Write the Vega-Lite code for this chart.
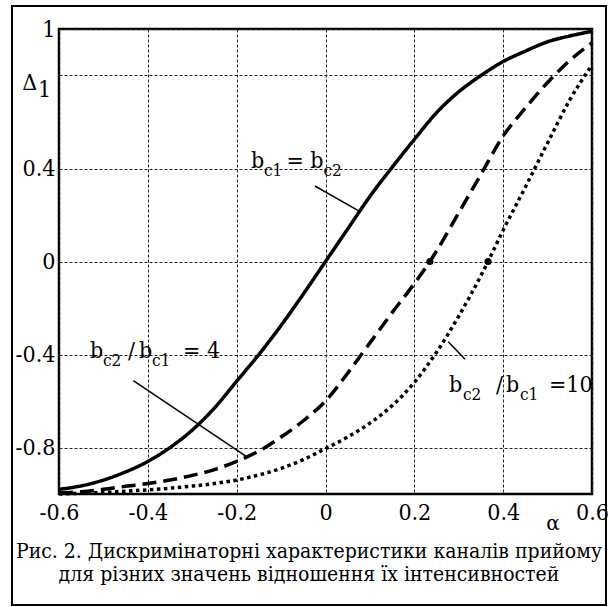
{
  "$schema": "https://vega.github.io/schema/vega-lite/v6.json",
  "width": 533,
  "height": 465,
  "autosize": "none",
  "padding": {"left": 59, "top": 29, "right": 23, "bottom": 113},
  "background": "white",
  "config": {"view": {"stroke": "black", "strokeWidth": 2.5}, "font": "DejaVu Serif Condensed"},
  "datasets": {
    "curves": [
      {"s": "eq", "a": -0.6, "d": -0.98}, {"s": "eq", "a": -0.55, "d": -0.965}, {"s": "eq", "a": -0.5, "d": -0.94},
      {"s": "eq", "a": -0.45, "d": -0.905}, {"s": "eq", "a": -0.4, "d": -0.86}, {"s": "eq", "a": -0.35, "d": -0.8},
      {"s": "eq", "a": -0.3, "d": -0.725}, {"s": "eq", "a": -0.25, "d": -0.63}, {"s": "eq", "a": -0.2, "d": -0.515},
      {"s": "eq", "a": -0.15, "d": -0.4}, {"s": "eq", "a": -0.1, "d": -0.275}, {"s": "eq", "a": -0.05, "d": -0.14},
      {"s": "eq", "a": 0.0, "d": 0.0}, {"s": "eq", "a": 0.05, "d": 0.14}, {"s": "eq", "a": 0.1, "d": 0.28},
      {"s": "eq", "a": 0.15, "d": 0.405}, {"s": "eq", "a": 0.2, "d": 0.525}, {"s": "eq", "a": 0.25, "d": 0.64},
      {"s": "eq", "a": 0.3, "d": 0.73}, {"s": "eq", "a": 0.35, "d": 0.8}, {"s": "eq", "a": 0.4, "d": 0.86},
      {"s": "eq", "a": 0.45, "d": 0.905}, {"s": "eq", "a": 0.5, "d": 0.945}, {"s": "eq", "a": 0.55, "d": 0.97},
      {"s": "eq", "a": 0.6, "d": 0.99},
      {"s": "r4", "a": -0.6, "d": -0.995}, {"s": "r4", "a": -0.55, "d": -0.99}, {"s": "r4", "a": -0.5, "d": -0.98},
      {"s": "r4", "a": -0.45, "d": -0.967}, {"s": "r4", "a": -0.4, "d": -0.955}, {"s": "r4", "a": -0.35, "d": -0.94},
      {"s": "r4", "a": -0.3, "d": -0.92}, {"s": "r4", "a": -0.25, "d": -0.895}, {"s": "r4", "a": -0.2, "d": -0.86},
      {"s": "r4", "a": -0.15, "d": -0.815}, {"s": "r4", "a": -0.1, "d": -0.755}, {"s": "r4", "a": -0.05, "d": -0.685},
      {"s": "r4", "a": 0.0, "d": -0.6}, {"s": "r4", "a": 0.05, "d": -0.48}, {"s": "r4", "a": 0.1, "d": -0.35},
      {"s": "r4", "a": 0.15, "d": -0.22}, {"s": "r4", "a": 0.2, "d": -0.095}, {"s": "r4", "a": 0.235, "d": 0.0},
      {"s": "r4", "a": 0.25, "d": 0.045}, {"s": "r4", "a": 0.3, "d": 0.21}, {"s": "r4", "a": 0.35, "d": 0.375},
      {"s": "r4", "a": 0.4, "d": 0.54}, {"s": "r4", "a": 0.45, "d": 0.66}, {"s": "r4", "a": 0.5, "d": 0.77},
      {"s": "r4", "a": 0.55, "d": 0.865}, {"s": "r4", "a": 0.6, "d": 0.94},
      {"s": "r10", "a": -0.6, "d": -1.0}, {"s": "r10", "a": -0.55, "d": -0.997}, {"s": "r10", "a": -0.5, "d": -0.993},
      {"s": "r10", "a": -0.45, "d": -0.988}, {"s": "r10", "a": -0.4, "d": -0.982}, {"s": "r10", "a": -0.35, "d": -0.975},
      {"s": "r10", "a": -0.3, "d": -0.966}, {"s": "r10", "a": -0.25, "d": -0.955}, {"s": "r10", "a": -0.2, "d": -0.94},
      {"s": "r10", "a": -0.15, "d": -0.918}, {"s": "r10", "a": -0.1, "d": -0.89}, {"s": "r10", "a": -0.05, "d": -0.852},
      {"s": "r10", "a": 0.0, "d": -0.805}, {"s": "r10", "a": 0.05, "d": -0.755}, {"s": "r10", "a": 0.1, "d": -0.695},
      {"s": "r10", "a": 0.15, "d": -0.62}, {"s": "r10", "a": 0.2, "d": -0.52}, {"s": "r10", "a": 0.25, "d": -0.39},
      {"s": "r10", "a": 0.3, "d": -0.235}, {"s": "r10", "a": 0.35, "d": -0.06}, {"s": "r10", "a": 0.366, "d": 0.0},
      {"s": "r10", "a": 0.4, "d": 0.135}, {"s": "r10", "a": 0.45, "d": 0.32}, {"s": "r10", "a": 0.5, "d": 0.51},
      {"s": "r10", "a": 0.55, "d": 0.695}, {"s": "r10", "a": 0.6, "d": 0.845}
    ],
    "dots": [{"a": 0.235, "d": 0.0}, {"a": 0.366, "d": 0.0}],
    "leaders": [
      {"a": -0.0237, "d": 0.3247, "a2": 0.0738, "d2": 0.2185},
      {"a": -0.4327, "d": -0.5127, "a2": -0.1752, "d2": -0.8422},
      {"a": 0.2765, "d": -0.3449, "a2": 0.3141, "d2": -0.4206}
    ],
    "labels_main": [
      {"a": -0.1677, "d": 0.4022, "t": "b"},
      {"a": -0.0879, "d": 0.4022, "t": "= b"},
      {"a": -0.5302, "d": -0.4151, "t": "b"},
      {"a": -0.4447, "d": -0.4151, "t": "/"},
      {"a": -0.4199, "d": -0.4151, "t": "b"},
      {"a": -0.3208, "d": -0.4151, "t": "= 4"},
      {"a": 0.278, "d": -0.5613, "t": "b"},
      {"a": 0.3839, "d": -0.5613, "t": "/"},
      {"a": 0.4064, "d": -0.5613, "t": "b"},
      {"a": 0.5032, "d": -0.5613, "t": "=10"},
      {"a": -0.683, "d": 0.7376, "t": "Δ"},
      {"a": -0.6473, "d": 0.7075, "t": "1"}
    ],
    "labels_sub": [
      {"a": -0.1385, "d": 0.3677, "t": "c1"},
      {"a": -0.0044, "d": 0.3677, "t": "c2"},
      {"a": -0.5009, "d": -0.4495, "t": "c2"},
      {"a": -0.3906, "d": -0.4495, "t": "c1"},
      {"a": 0.3096, "d": -0.5957, "t": "c2"},
      {"a": 0.4379, "d": -0.5957, "t": "c1"}
    ],
    "caption": [
      {"a": -0.0372, "d": -1.2753, "t": "Рис. 2. Дискримінаторні характеристики каналів прийому"},
      {"a": -0.0372, "d": -1.375, "t": "для різних значень відношення їх інтенсивностей"}
    ]
  },
  "layer": [
    {
      "data": {"name": "curves"},
      "mark": {"type": "line", "color": "black", "strokeWidth": 3.5, "strokeCap": "butt", "interpolate": "monotone"},
      "encoding": {
        "x": {
          "field": "a", "type": "quantitative",
          "scale": {"domain": [-0.6, 0.6], "nice": false, "zero": false},
          "axis": {
            "values": [-0.6, -0.4, -0.2, 0, 0.2, 0.4, 0.6],
            "labelExpr": "replace(format(datum.value, '.1~f'), '\u2212', '-')",
            "grid": true, "gridColor": "#222", "gridDash": [3, 2], "gridWidth": 1,
            "ticks": false, "domain": false, "labelFont": "DejaVu Serif Condensed", "labelFontSize": 23,
            "labelColor": "black", "labelPadding": 7, "title": null, "labelFlush": false, "labelOverlap": false
          }
        },
        "y": {
          "field": "d", "type": "quantitative",
          "scale": {"domain": [-1, 1], "nice": false, "zero": false},
          "axis": {
            "values": [1, 0.8, 0.4, 0, -0.4, -0.8],
            "labelExpr": "datum.value == 0.8 ? '' : replace(format(datum.value, '.1~f'), '\u2212', '-')",
            "grid": true, "gridColor": "#222", "gridDash": [3, 2], "gridWidth": 1,
            "ticks": false, "domain": false, "labelFont": "DejaVu Serif Condensed", "labelFontSize": 23,
            "labelColor": "black", "labelPadding": 4, "title": null, "labelFlush": false, "labelOverlap": false
          }
        },
        "strokeDash": {
          "field": "s", "type": "nominal",
          "scale": {"domain": ["eq", "r4", "r10"], "range": [[1, 0], [14, 7], [3.5, 3.5]]},
          "legend": null
        },
        "order": {"field": "a", "type": "quantitative"}
      }
    },
    {
      "data": {"name": "dots"},
      "mark": {"type": "point", "shape": "circle", "filled": true, "color": "black", "size": 50, "opacity": 1},
      "encoding": {
        "x": {"field": "a", "type": "quantitative"},
        "y": {"field": "d", "type": "quantitative"}
      }
    },
    {
      "data": {"name": "leaders"},
      "mark": {"type": "rule", "color": "black", "strokeWidth": 1.5},
      "encoding": {
        "x": {"field": "a", "type": "quantitative"},
        "y": {"field": "d", "type": "quantitative"},
        "x2": {"field": "a2"},
        "y2": {"field": "d2"}
      }
    },
    {
      "data": {"name": "labels_main"},
      "mark": {"type": "text", "font": "DejaVu Serif Condensed", "fontSize": 23, "align": "left", "baseline": "alphabetic", "color": "black"},
      "encoding": {
        "x": {"field": "a", "type": "quantitative"},
        "y": {"field": "d", "type": "quantitative"},
        "text": {"field": "t"}
      }
    },
    {
      "data": {"name": "labels_sub"},
      "mark": {"type": "text", "font": "DejaVu Serif Condensed", "fontSize": 17, "align": "left", "baseline": "alphabetic", "color": "black"},
      "encoding": {
        "x": {"field": "a", "type": "quantitative"},
        "y": {"field": "d", "type": "quantitative"},
        "text": {"field": "t"}
      }
    },
    {
      "data": {"name": "caption"},
      "mark": {"type": "text", "font": "DejaVu Serif Condensed", "fontSize": 21, "align": "center", "baseline": "alphabetic", "color": "black"},
      "encoding": {
        "x": {"field": "a", "type": "quantitative"},
        "y": {"field": "d", "type": "quantitative"},
        "text": {"field": "t"}
      }
    },
    {
      "data": {"values": [{}]},
      "mark": {"type": "text", "font": "DejaVu Serif", "fontSize": 20, "align": "center", "baseline": "alphabetic", "color": "black", "text": "α"},
      "encoding": {
        "x": {"datum": 0.5122, "type": "quantitative"},
        "y": {"datum": -1.1548, "type": "quantitative"}
      }
    },
    {
      "data": {"values": [{}]},
      "mark": {"type": "rect", "fill": "transparent", "stroke": "black", "strokeWidth": 2},
      "encoding": {
        "x": {"datum": -0.7058, "type": "quantitative"},
        "x2": {"datum": 0.6315},
        "y": {"datum": 1.0989, "type": "quantitative"},
        "y2": {"datum": -1.4774}
      }
    }
  ]
}
